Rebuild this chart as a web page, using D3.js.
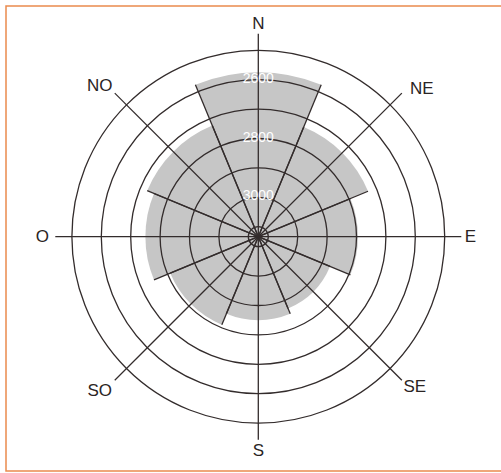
<!DOCTYPE html>
<html>
<head>
<meta charset="utf-8">
<script src="https://cdn.jsdelivr.net/npm/d3@7"></script>
<style>
  html, body { margin: 0; padding: 0; background: #fff; }
  svg { display: block; }
</style>
</head>
<body>
<svg id="chart" width="501" height="473"></svg>
<script>
// Data
const directions = ["N", "NE", "E", "SE", "S", "SO", "O", "NO"];
const minElevation = [2575, 2730, 2795, 2870, 2850, 2810, 2750, 2725];
const ringValues = [3100, 3000, 2900, 2800, 2700, 2600, 2500];
const ringLabels = [3000, 2800, 2600];

const svg = d3.select("#chart");
const cx = 258.3, cy = 236.7;

// frame
svg.append("rect")
  .attr("x", 6).attr("y", 6)
  .attr("width", 520).attr("height", 465)
  .attr("fill", "none")
  .attr("stroke", "#ea8a4e")
  .attr("stroke-width", 1.5);

const g = svg.append("g").attr("transform", `translate(${cx},${cy})`);

const r = d3.scaleLinear().domain([3100, 2500]).range([10, 186.4]);
const angle = d3.scaleBand().domain(directions).range([-Math.PI / 8, 2 * Math.PI - Math.PI / 8]);

const arc = d3.arc()
  .innerRadius(0)
  .outerRadius(d => r(d.v))
  .startAngle(d => angle(d.dir))
  .endAngle(d => angle(d.dir) + angle.bandwidth());

const bars = directions.map((dir, i) => ({ dir, v: minElevation[i] }));

// bars
g.selectAll("path.bar").data(bars).join("path")
  .attr("class", "bar")
  .attr("d", arc)
  .attr("fill", "#c6c6c6")
  .attr("stroke", "none");

const lineColor = "#332c2c";

// rings
g.selectAll("circle.ring").data(ringValues).join("circle")
  .attr("class", "ring")
  .attr("r", d => r(d))
  .attr("fill", "none")
  .attr("stroke", lineColor)
  .attr("stroke-width", 1.3);

// main axes
const axisLen = 203;
const centerAngle = d => angle(d) + angle.bandwidth() / 2;
g.selectAll("line.axis").data(directions).join("line")
  .attr("class", "axis")
  .attr("x1", 0).attr("y1", 0)
  .attr("x2", d => axisLen * Math.sin(centerAngle(d)))
  .attr("y2", d => -axisLen * Math.cos(centerAngle(d)))
  .attr("stroke", lineColor)
  .attr("stroke-width", 1.3);

// bar radial edges
const edges = [];
bars.forEach(b => {
  const a0 = angle(b.dir), a1 = a0 + angle.bandwidth();
  [a0, a1].forEach(a => edges.push({ a, len: r(b.v) }));
});
g.selectAll("line.edge").data(edges).join("line")
  .attr("class", "edge")
  .attr("x1", 0).attr("y1", 0)
  .attr("x2", d => d.len * Math.sin(d.a))
  .attr("y2", d => -d.len * Math.cos(d.a))
  .attr("stroke", lineColor)
  .attr("stroke-width", 1.3);

// direction labels (small layout nudges per label)
const nudge = { N: [0, 1], NE: [8, 7], E: [-2, 0], SE: [1, -6], S: [0, 0], SO: [-3, -2], O: [-2, 0], NO: [-3, 4] };
g.selectAll("text.dir").data(directions).join("text")
  .attr("class", "dir")
  .attr("x", (d, i) => (i % 2 === 0 ? 214 : 220) * Math.sin(centerAngle(d)) + nudge[d][0])
  .attr("y", (d, i) => -(i % 2 === 0 ? 214 : 220) * Math.cos(centerAngle(d)) + nudge[d][1])
  .attr("text-anchor", "middle")
  .attr("dominant-baseline", "central")
  .attr("font-family", "Liberation Sans, Arial, sans-serif")
  .attr("font-size", 17)
  .attr("fill", "#2a2424")
  .text(d => d);

// ring labels
g.selectAll("text.ringlabel").data(ringLabels).join("text")
  .attr("class", "ringlabel")
  .attr("x", 0)
  .attr("y", d => -r(d) - 2)
  .attr("text-anchor", "middle")
  .attr("dominant-baseline", "central")
  .attr("font-family", "Liberation Sans, Arial, sans-serif")
  .attr("font-size", 14)
  .attr("fill", "#ffffff")
  .text(d => d);
</script>
</body>
</html>
